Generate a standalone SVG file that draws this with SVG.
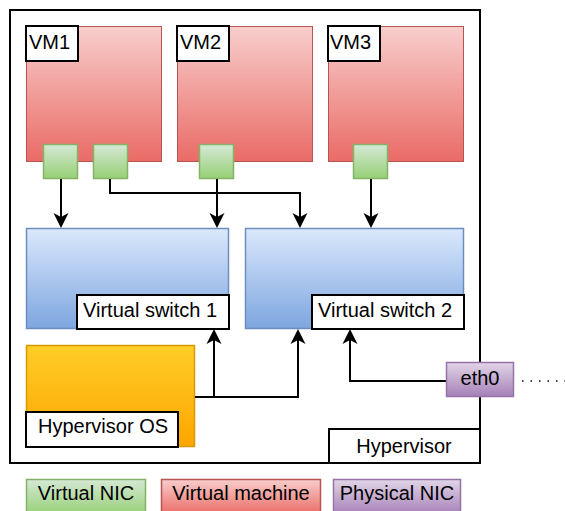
<svg xmlns="http://www.w3.org/2000/svg" width="565" height="511" viewBox="0 0 565 511">
<style>
.vm{fill:url(#gVM);stroke:#b85450;stroke-width:1}
.nic{fill:url(#gNIC);stroke:#82b366;stroke-width:1.5}
.sw{fill:url(#gSW);stroke:#6c8ebf;stroke-width:1.5}
.os{fill:url(#gOS);stroke:#d79b00;stroke-width:1.5}
.pn{fill:url(#gPN);stroke:#9673a6;stroke-width:1.5}
.lbl{fill:#ffffff;stroke:#000000;stroke-width:2}
.t{font-family:"Liberation Sans",Helvetica,Arial,sans-serif;font-size:20px;fill:#000000}
.c{text-anchor:middle}
.edge{fill:none;stroke:#000000;stroke-width:2}
.dot{fill:none;stroke:#000000;stroke-width:1.5;stroke-dasharray:1.5 7}
</style>
<defs>
<linearGradient id="gVM" x1="0" y1="0" x2="0" y2="1"><stop offset="0" stop-color="#f8cecc"/><stop offset="1" stop-color="#ea6b66"/></linearGradient>
<linearGradient id="gNIC" x1="0" y1="0" x2="0" y2="1"><stop offset="0" stop-color="#d5e8d4"/><stop offset="1" stop-color="#97d077"/></linearGradient>
<linearGradient id="gSW" x1="0" y1="0" x2="0" y2="1"><stop offset="0" stop-color="#dae8fc"/><stop offset="1" stop-color="#7ea6e0"/></linearGradient>
<linearGradient id="gOS" x1="0" y1="0" x2="0" y2="1"><stop offset="0" stop-color="#ffcd28"/><stop offset="1" stop-color="#ffa500"/></linearGradient>
<linearGradient id="gPN" x1="0" y1="0" x2="0" y2="1"><stop offset="0" stop-color="#e1d5e7"/><stop offset="1" stop-color="#a680b8"/></linearGradient>
<marker id="arr" markerUnits="userSpaceOnUse" viewBox="0 -8 16 16" markerWidth="16" markerHeight="16" refX="4" refY="0" orient="auto">
<path d="M0,-7.5 L15,0 L0,7.5 L4,0 Z" fill="#000000"/>
</marker>
</defs>

<g id="hypervisor">
<rect x="10" y="10" width="470" height="453" fill="#ffffff" stroke="#000000" stroke-width="2"/>
<rect class="lbl" x="329" y="429" width="151" height="34"/>
<text class="t c" x="404" y="453">Hypervisor</text>
</g>

<g id="vm1">
<rect class="vm" x="26.5" y="26.5" width="135" height="135"/>
<rect class="lbl" x="26" y="26" width="52" height="35"/>
<text class="t" x="29" y="49">VM1</text>
</g>
<g id="vm2">
<rect class="vm" x="177.5" y="26.5" width="135" height="135"/>
<rect class="lbl" x="177" y="26" width="52" height="35"/>
<text class="t" x="180" y="49">VM2</text>
</g>
<g id="vm3">
<rect class="vm" x="328.5" y="26.5" width="135" height="135"/>
<rect class="lbl" x="328" y="26" width="52" height="35"/>
<text class="t" x="330" y="49">VM3</text>
</g>

<g id="vnic1"><rect class="nic" x="43.5" y="144.5" width="34" height="34"/></g>
<g id="vnic2"><rect class="nic" x="93.5" y="144.5" width="34" height="34"/></g>
<g id="vnic3"><rect class="nic" x="199.5" y="144.5" width="34" height="34"/></g>
<g id="vnic4"><rect class="nic" x="353.5" y="144.5" width="34" height="34"/></g>

<g id="vswitch1">
<rect class="sw" x="26.5" y="228.5" width="202" height="100"/>
<rect class="lbl" x="77" y="295" width="152" height="34"/>
<text class="t" x="83" y="317">Virtual switch 1</text>
</g>
<g id="vswitch2">
<rect class="sw" x="245.5" y="228.5" width="218" height="100"/>
<rect class="lbl" x="312" y="295" width="152" height="34"/>
<text class="t" x="318" y="317">Virtual switch 2</text>
</g>

<g id="hypervisor-os">
<rect class="os" x="26.5" y="345.5" width="168" height="101"/>
<rect class="lbl" x="26" y="412" width="152" height="35"/>
<text class="t" x="38" y="433">Hypervisor OS</text>
</g>

<g id="connectors">
<path class="edge" d="M61,179 V217" marker-end="url(#arr)"/>
<path class="edge" d="M110,179 V193 H300 V217" marker-end="url(#arr)"/>
<path class="edge" d="M217,179 V217" marker-end="url(#arr)"/>
<path class="edge" d="M371,179 V217" marker-end="url(#arr)"/>
<path class="edge" d="M195,397 H214 V340" marker-end="url(#arr)"/>
<path class="edge" d="M195,397 H298 V340" marker-end="url(#arr)"/>
<path class="edge" d="M446,381 H350 V340" marker-end="url(#arr)"/>
<path class="dot" d="M522,381 H565"/>
</g>

<g id="eth0">
<rect class="pn" x="446.5" y="362.5" width="67" height="34"/>
<text class="t c" x="480" y="385">eth0</text>
</g>

<g id="legend-vnic">
<rect class="nic" x="26.5" y="479.5" width="119" height="35"/>
<text class="t c" x="86" y="500">Virtual NIC</text>
</g>
<g id="legend-vm">
<rect class="vm" x="161.5" y="479.5" width="159" height="35" style="stroke-width:1.5"/>
<text class="t c" x="241" y="500">Virtual machine</text>
</g>
<g id="legend-pnic">
<rect class="pn" x="333.5" y="479.5" width="127" height="35"/>
<text class="t c" x="397" y="500">Physical NIC</text>
</g>
</svg>
